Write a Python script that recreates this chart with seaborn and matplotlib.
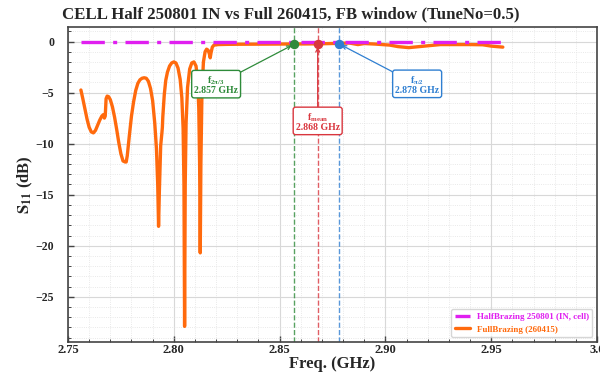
import matplotlib
matplotlib.use("Agg")
import matplotlib.pyplot as plt
from matplotlib.ticker import MultipleLocator, FuncFormatter
import pandas as pd
import seaborn as sns

# Measured S11 of the full-brazing cell (GHz, dB)
full_freq = [
    2.7561, 2.7570, 2.7580, 2.7590, 2.7600, 2.7610, 2.7620, 2.7630, 2.7640, 2.7650,
    2.7660, 2.7668, 2.7672, 2.7676, 2.7680, 2.7685, 2.7692, 2.7700, 2.7710, 2.7720,
    2.7730, 2.7740, 2.7750, 2.7760, 2.7770, 2.7775, 2.7780, 2.7790, 2.7800, 2.7810,
    2.7820, 2.7830, 2.7840, 2.7850, 2.7860, 2.7870, 2.7880, 2.7890, 2.7900, 2.7910,
    2.7918, 2.7924, 2.7928, 2.7932, 2.7938, 2.7944, 2.7946, 2.7948, 2.7955, 2.7962,
    2.7970, 2.7980, 2.7990, 2.8000, 2.8010, 2.8020, 2.8030, 2.8038, 2.8044, 2.8048,
    2.8051, 2.8054, 2.8058, 2.8065, 2.8075, 2.8085, 2.8095, 2.8105, 2.8112, 2.8118,
    2.8122, 2.8125, 2.8128, 2.8133, 2.8140, 2.8148, 2.8155, 2.8162, 2.8168, 2.8172,
    2.8176, 2.8182, 2.8190, 2.8210, 2.8250, 2.8300, 2.8400, 2.8500, 2.8570, 2.8620,
    2.8680, 2.8740, 2.8780, 2.8830, 2.8870, 2.8900, 2.8950, 2.9020, 2.9060, 2.9110,
    2.9160, 2.9210, 2.9260, 2.9320, 2.9400, 2.9460, 2.9500, 2.9555,
]
full_s11 = [
    -4.75, -5.6, -6.6, -7.6, -8.4, -8.85, -8.95, -8.7, -8.2, -7.7,
    -7.3, -7.15, -7.5, -7.3, -5.6, -5.35, -5.4, -5.7, -6.4, -7.4,
    -8.6, -9.9, -11.0, -11.7, -11.8, -11.8, -11.2, -9.2, -7.3, -5.9,
    -4.8, -4.1, -3.75, -3.6, -3.55, -3.6, -3.9, -4.6, -5.8, -8.0,
    -10.5, -14.0, -18.1, -14.5, -10.2, -8.9, -8.4, -7.4, -5.2, -3.8,
    -3.0, -2.4, -2.1, -2.0, -2.1, -2.6, -3.7, -5.5, -8.5, -14.0,
    -27.9, -14.0, -8.0, -4.5, -2.7, -2.1, -2.0, -2.4, -3.6, -6.5,
    -12.0, -20.7, -12.0, -5.0, -2.0, -1.0, -0.75, -0.85, -1.2, -1.6,
    -1.1, -0.55, -0.35, -0.3, -0.28, -0.27, -0.26, -0.25, -0.24, -0.24,
    -0.23, -0.2, -0.18, -0.15, -0.3, -0.2, -0.25, -0.35, -0.5, -0.6,
    -0.5, -0.4, -0.3, -0.3, -0.3, -0.32, -0.45, -0.55,
]

# Half-brazing reference (flat 0 dB over the window)
half_freq = [2.7561, 2.9555]
half_s11 = [0.0, 0.0]

# Mode frequencies (GHz) and labels
mode_freq = [2.857, 2.868, 2.878]
mode_s11 = [-0.25, -0.25, -0.22]
mode_names = [r"$\mathregular{f_{2\pi/3}}$", r"$\mathregular{f_{mean}}$", r"$\mathregular{f_{\pi/2}}$"]
mode_colors = ["#2e8b3a", "#d9363e", "#2f7fd1"]

full_df = pd.DataFrame({"freq": full_freq, "s11": full_s11})
half_df = pd.DataFrame({"freq": half_freq, "s11": half_s11})

sns.set_style("ticks")
plt.rcParams["font.family"] = ["Liberation Serif", "DejaVu Serif"]
plt.rcParams["mathtext.fontset"] = "stix"
plt.rcParams["font.weight"] = "bold"

fig = plt.figure(figsize=(6, 3.81), dpi=100)
ax = fig.add_axes([68 / 600, 1 - 341.7 / 381, (597 - 68) / 600, (341.7 - 26.7) / 381])

ORANGE = "#ff6a0d"
MAGENTA = "#e01ff0"

sns.lineplot(data=half_df, x="freq", y="s11", ax=ax, color=MAGENTA, lw=2.4,
             label="HalfBrazing 250801 (IN, cell)", zorder=4)
ax.lines[-1].set_dashes([7, 2.5, 1.2, 2.5])
sns.lineplot(data=full_df, x="freq", y="s11", ax=ax, color=ORANGE, lw=2.4,
             label="FullBrazing (260415)", zorder=3, sort=False)

# Mode markers, dashed guides and callouts
offsets = [(-0.037, -4.0), (0.0, -7.6), (0.037, -4.0)]
for f, s, name, col, (dx, dy) in zip(mode_freq, mode_s11, mode_names, mode_colors, offsets):
    ax.axvline(f, color=col, ls="--", lw=1.0, alpha=0.8, zorder=2)
    ax.plot([f], [s], "o", color=col, ms=5.8, zorder=6)
    ax.annotate(f"{name}\n{f:.3f} GHz", xy=(f, s), xytext=(f + dx, s + dy),
                ha="center", va="center", fontsize=7, fontweight="bold", color=col,
                linespacing=0.95,
                bbox=dict(boxstyle="round,pad=0.25", fc="white", ec=col, lw=1.0),
                arrowprops=dict(arrowstyle="->", color=col, lw=0.9,
                                shrinkA=0, shrinkB=2),
                zorder=7)

ax.set_xlim(2.75, 3.0)
ax.set_ylim(-29.4, 1.45)
ax.xaxis.set_major_locator(MultipleLocator(0.05))
ax.xaxis.set_minor_locator(MultipleLocator(0.01))
ax.yaxis.set_major_locator(MultipleLocator(5))
ax.yaxis.set_minor_locator(MultipleLocator(1))
ax.xaxis.set_major_formatter(FuncFormatter(
    lambda v, p: f"{v:.2f}" if abs(v - 3.0) > 1e-9 else "3.0"))
ax.grid(which="major", color="#d8d8d8", lw=0.8, ls="-")
ax.grid(which="minor", color="#e2e2e2", lw=0.6, ls=":")
ax.set_axisbelow(True)

for sp in ax.spines.values():
    sp.set_color("#444444")
    sp.set_linewidth(1.2)
ax.tick_params(which="both", direction="in", color="#444444")
ax.tick_params(which="major", length=4, width=1.0, labelsize=9)
ax.tick_params(which="minor", length=2, width=0.7)
ax.tick_params(axis="x", which="major", pad=1.5)
ax.tick_params(axis="y", which="major", pad=10, labelsize=8.5)
for lbl in ax.get_xticklabels() + ax.get_yticklabels():
    lbl.set_fontweight("bold")

ax.set_xlabel("Freq. (GHz)", fontsize=12, fontweight="bold", labelpad=0)
ax.set_ylabel(r"$\mathbf{S_{11}}$ (dB)", fontsize=12, fontweight="bold")
ax.yaxis.set_label_coords(-0.062, 0.5)
fig.text(291 / 600, 1 - 14 / 381, "CELL Half 250801 IN vs Full 260415, FB window (TuneNo=0.5)",
         ha="center", va="center", fontsize=12.1, fontweight="bold")

leg = ax.legend(loc="lower right", fontsize=6.5, frameon=True, handlelength=1.6,
                borderaxespad=0.5, fancybox=True)
leg.get_frame().set_edgecolor("#cccccc")
for txt, col in zip(leg.get_texts(), [MAGENTA, ORANGE]):
    txt.set_color(col)
    txt.set_fontweight("bold")

fig.savefig("out.png", dpi=100)
